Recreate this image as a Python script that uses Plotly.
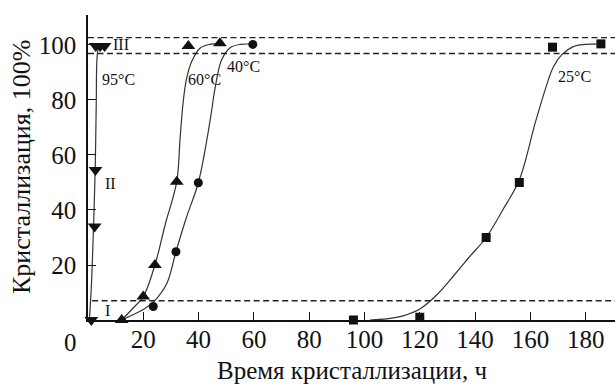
import plotly.graph_objects as go

# ---- data ----
# 95 °C (inverted triangles)
t95 = [1.2, 2.4, 2.7, 2.8, 4.4, 6.0]
c95 = [0, 34, 54.5, 99.6, 99.6, 99.6]
t95_fit = [0.5, 1.2, 2.0, 2.6, 3.0, 3.2, 3.7, 4.5, 6.0]
c95_fit = [0, 12, 34, 55, 80, 94, 98.5, 99.6, 100]

# 60 °C (triangles)
t60 = [12.2, 20.0, 24.2, 32.1, 36.3, 47.7]
c60 = [0, 8.5, 20, 50.3, 99.6, 100.6]
t60_fit = [12.2, 16, 20, 24.2, 28, 32.1, 33.3, 34.5, 35.7, 37.5, 40.5, 44, 47.7]
c60_fit = [0, 4, 8.5, 20, 35, 50.3, 66, 80, 88, 94, 98.8, 100.2, 100.5]

# 40 °C (circles)
t40 = [23.6, 31.8, 39.9, 59.6]
c40 = [4.9, 24.8, 49.9, 100.2]
t40_fit = [12.2, 16, 20, 23.6, 28.5, 31.8, 35.5, 39.9, 42.9, 44.7, 45.9, 48.3, 51.4, 55, 59.6]
c40_fit = [0, 1.8, 3.8, 6.5, 13.3, 24.8, 37, 49.9, 65, 76, 84, 94.5, 99, 100.2, 100.3]

# 25 °C (squares)
t25 = [96, 120, 144, 156, 168, 185.5]
c25 = [0, 1, 30, 50, 99.2, 100.4]
t25_fit = [102, 108, 114, 120, 126, 133, 138, 144, 150, 156, 161.7, 165.9, 168.3, 171.3, 175.5, 180, 185.5]
c25_fit = [0, 0.4, 1.5, 4, 9, 17, 23, 30, 40, 51, 71.5, 85.5, 92, 96.4, 99.4, 100.2, 100.4]

# boundary levels (dashed lines)
level_low = 7
level_mid = 96.9
level_top = 102.7

x_ticks = [20, 40, 60, 80, 100, 120, 140, 160, 180]
y_ticks = [20, 40, 60, 80, 100]

FONT = "Liberation Serif"
LINE = "#333333"
MARK = "#111111"
TXT = "#111111"

W, H = 615, 386
L, R, T, B = 88, 0, 15, 66
PW, PH = W - L - R, H - T - B


def px(xp):
    return (xp - L) / PW


def py(yp):
    return (H - B - yp) / PH


fig = go.Figure()


def curve(x, y):
    fig.add_trace(go.Scatter(x=x, y=y, mode="lines",
                             line=dict(color=LINE, width=1.2, shape="spline", smoothing=1.0),
                             cliponaxis=False, showlegend=False, hoverinfo="skip"))


def marks(x, y, symbol, size):
    fig.add_trace(go.Scatter(x=x, y=y, mode="markers",
                             marker=dict(symbol=symbol, size=size, color=MARK,
                                         line=dict(width=0)),
                             cliponaxis=False, showlegend=False))


# dashed level lines
for lvl, x0 in [(level_low, 1.5), (level_mid, 0), (level_top, 0)]:
    fig.add_shape(type="line", xref="x", yref="y", x0=x0, x1=191, y0=lvl, y1=lvl,
                  line=dict(color="#222222", width=1.3, dash="6px,3.5px"))

curve(t95_fit, c95_fit)
curve(t60_fit, c60_fit)
curve(t40_fit, c40_fit)
curve(t25_fit, c25_fit)

marks(t95, c95, "triangle-down", 12)
marks(t60, c60, "triangle-up", 12)
marks(t40, c40, "circle", 9)
marks(t25, c25, "square", 9)

labels = [
    ("95°C", 10.9, 87.6), ("III", 12.0, 100.0), ("II", 8.1, 49.8), ("I", 7.2, 3.6),
    ("60°C", 42.3, 87.3), ("40°C", 56.1, 92.0), ("25°C", 175.8, 88.7),
]
for txt, x, y in labels:
    fig.add_annotation(x=x, y=y, xref="x", yref="y", text=txt, showarrow=False,
                       xanchor="center", yanchor="middle",
                       font=dict(family=FONT, size=16, color=TXT))

# origin label and axis titles
fig.add_annotation(x=px(70), y=py(342), xref="paper", yref="paper", text="0",
                   showarrow=False, xanchor="center", yanchor="middle",
                   font=dict(family=FONT, size=25, color=TXT))
fig.add_annotation(x=px(21), y=py(167), xref="paper", yref="paper",
                   text="Кристаллизация, 100%", textangle=-90, showarrow=False,
                   xanchor="center", yanchor="middle",
                   font=dict(family=FONT, size=26, color=TXT))
fig.add_annotation(x=px(352), y=py(370), xref="paper", yref="paper",
                   text="Время кристаллизации, ч", showarrow=False,
                   xanchor="center", yanchor="middle",
                   font=dict(family=FONT, size=25, color=TXT))

fig.update_layout(
    width=W, height=H,
    margin=dict(l=L, r=R, t=T, b=B, autoexpand=False),
    paper_bgcolor="white", plot_bgcolor="white",
    font=dict(family=FONT, size=24, color=TXT),
    showlegend=False,
)

fig.update_xaxes(range=[0, 190.6], tickvals=x_ticks, ticks="inside", ticklen=8,
                 tickwidth=1.2, tickcolor="#111111", showline=True, linecolor="#111111",
                 linewidth=1.5, showgrid=False, zeroline=False, ticklabelstandoff=-4,
                 tickfont=dict(family=FONT, size=25, color=TXT))
fig.update_yaxes(range=[0, 110.9], tickvals=y_ticks, ticks="inside", ticklen=8,
                 tickwidth=1.2, tickcolor="#111111", showline=True, linecolor="#111111",
                 linewidth=1.5, showgrid=False, zeroline=False, ticklabelstandoff=5,
                 tickfont=dict(family=FONT, size=25, color=TXT))

fig.write_html("out.html", config={"displayModeBar": False},
               post_script="document.body.style.margin='0px';")
